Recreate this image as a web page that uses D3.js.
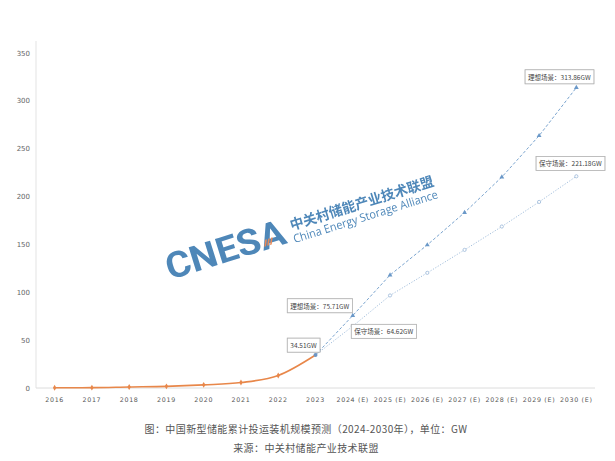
<!DOCTYPE html>
<html><head><meta charset="utf-8">
<script src="https://cdn.jsdelivr.net/npm/d3@7"></script>
<style>
html,body{margin:0;padding:0;background:#fff;}
svg{display:block;font-family:"Noto Sans CJK SC","Noto Sans",sans-serif;}
</style></head>
<body>
<svg id="c" width="615" height="461"></svg>
<script>
const categories = ["2016","2017","2018","2019","2020","2021","2022","2023","2024 (E)","2025 (E)","2026 (E)","2027 (E)","2028 (E)","2029 (E)","2030 (E)"];
const historical = [0.24,0.39,1.07,1.71,3.28,5.73,13.1,34.51];
const idealYears = ["2023","2024 (E)","2025 (E)","2026 (E)","2027 (E)","2028 (E)","2029 (E)","2030 (E)"];
const ideal = [34.51,75.71,118,149.5,183.3,220.4,263.6,313.86];
const conservative = [34.51,64.62,96.7,120.3,144.3,168.7,194.4,221.18];
const yTicks = [0,50,100,150,200,250,300,350];
const annotations = [
  {cat:"2023", v:34.51, text:"34.51GW"},
  {cat:"2024 (E)", v:75.71, text:"理想场景：75.71GW"},
  {cat:"2024 (E)", v:64.62, text:"保守场景：64.62GW"},
  {cat:"2030 (E)", v:313.86, text:"理想场景：313.86GW"},
  {cat:"2030 (E)", v:221.18, text:"保守场景：221.18GW"}
];
const captionTitle = "图：中国新型储能累计投运装机规模预测（2024-2030年），单位：GW";
const captionSource = "来源：中关村储能产业技术联盟";

const svg = d3.select("#c");
const L = 36, R = 595, T = 53, B = 388;
const x = d3.scaleBand().domain(categories).range([L, R]);
const cx = c => x(c) + x.bandwidth()/2;
const y = d3.scaleLinear().domain([0,350]).range([B, T]);

// watermark
const blue = "#3f7db3";
const wm = svg.append("g").attr("transform","translate(170,280) rotate(-17.4)").attr("opacity",0.92);
wm.append("text").attr("x",0).attr("y",0).attr("font-family","Roboto, 'DejaVu Sans', sans-serif")
  .attr("font-weight","bold").attr("font-size",36).attr("fill",blue)
  .attr("textLength",124).attr("lengthAdjust","spacingAndGlyphs").text("CNESA");
const ic = wm.append("g").attr("transform","translate(103,-10)");
[0,3,6].forEach(d=>ic.append("rect").attr("x",d).attr("y",0).attr("width",1.7).attr("height",6.5).attr("fill","#e8804a").attr("transform","skewX(-25)"));
wm.append("text").attr("x",131).attr("y",-11).attr("font-size",14).attr("font-weight","bold").attr("fill",blue)
  .attr("textLength",150).attr("lengthAdjust","spacingAndGlyphs").text("中关村储能产业技术联盟");
wm.append("text").attr("x",130).attr("y",2).attr("font-size",11.5).attr("fill",blue)
  .attr("font-family","'Open Sans','Noto Sans',sans-serif")
  .attr("textLength",151).attr("lengthAdjust","spacingAndGlyphs").text("China Energy Storage Alliance");

// axes
svg.append("line").attr("x1",L).attr("x2",L).attr("y1",T-12).attr("y2",B).attr("stroke","#e3e3e3");
svg.append("line").attr("x1",L).attr("x2",R).attr("y1",B).attr("y2",B).attr("stroke","#dcdcdc");
const yAxis = svg.append("g");
yAxis.selectAll("text").data(yTicks).join("text")
  .attr("x",30).attr("y",d=>y(d)+2.5).attr("text-anchor","end")
  .attr("font-size",7).attr("fill","#666").attr("font-family","'DejaVu Sans',sans-serif").text(d=>d);
const xAxis = svg.append("g");
xAxis.selectAll("text").data(categories).join("text")
  .attr("x",d=>cx(d)).attr("y",B+14).attr("text-anchor","middle")
  .attr("font-size",6.3).attr("fill","#555").attr("letter-spacing",0.7)
  .attr("font-family","'DejaVu Sans',sans-serif").text(d=>d);

// lines
const histData = historical.map((v,i)=>({c:categories[i],v}));
const idealData = ideal.map((v,i)=>({c:idealYears[i],v}));
const consData = conservative.map((v,i)=>({c:idealYears[i],v}));
const lineS = d3.line().x(d=>cx(d.c)).y(d=>y(d.v)).curve(d3.curveMonotoneX);
const lineL = d3.line().x(d=>cx(d.c)).y(d=>y(d.v));

svg.append("path").datum(consData).attr("d",lineL).attr("fill","none").attr("stroke","#9ab8d8").attr("stroke-width",0.9).attr("stroke-dasharray","1.2,1.6");
svg.append("path").datum(idealData).attr("d",lineL).attr("fill","none").attr("stroke","#6a98c8").attr("stroke-width",0.9).attr("stroke-dasharray","3,2");
svg.append("path").datum(histData).attr("d",lineS).attr("fill","none").attr("stroke","#e8874a").attr("stroke-width",1.6);

svg.append("g").selectAll("path").data(histData.slice(0,7)).join("path")
  .attr("transform",d=>`translate(${cx(d.c)},${y(d.v)})`)
  .attr("d",d3.symbol(d3.symbolDiamond,10)).attr("fill","#e8874a");
svg.append("g").selectAll("path").data(consData.slice(1)).join("path")
  .attr("transform",d=>`translate(${cx(d.c)},${y(d.v)})`)
  .attr("d",d3.symbol(d3.symbolCircle,8)).attr("fill","#fff").attr("stroke","#9ab8d8").attr("stroke-width",0.8);
svg.append("g").selectAll("path").data(idealData.slice(1)).join("path")
  .attr("transform",d=>`translate(${cx(d.c)},${y(d.v)})`)
  .attr("d",d3.symbol(d3.symbolTriangle,10)).attr("fill","#6a98c8");
svg.append("circle").attr("cx",cx("2023")).attr("cy",y(34.51)).attr("r",2).attr("fill","#6f96c2");

// annotation boxes
const offs = [[-12,-9],[-33,-9],[31,6],[-17,-10],[-6,-12]];
const ag = svg.append("g");
annotations.forEach((a,i)=>{
  const px = cx(a.cat), py = y(a.v);
  const g = ag.append("g");
  const t = g.append("text").attr("font-size",6.5).attr("fill","#444").attr("text-anchor","middle")
    .attr("x",px+offs[i][0]).attr("y",py+offs[i][1]+2.2).text(a.text);
  const bb = t.node().getBBox();
  g.insert("rect","text").attr("x",bb.x-3).attr("y",bb.y-2).attr("width",bb.width+6).attr("height",bb.height+4)
    .attr("fill","#fff").attr("stroke","#b5b5b5").attr("stroke-width",0.8)
    .style("filter","drop-shadow(0.5px 0.5px 0.6px rgba(0,0,0,0.25))");
});

// captions
svg.append("text").attr("x",306).attr("y",433).attr("text-anchor","middle").attr("font-size",10).attr("letter-spacing",0.4).attr("fill","#555").text(captionTitle);
svg.append("text").attr("x",306).attr("y",452).attr("text-anchor","middle").attr("font-size",10).attr("letter-spacing",0.4).attr("fill","#555").text(captionSource);
</script>
</body></html>
